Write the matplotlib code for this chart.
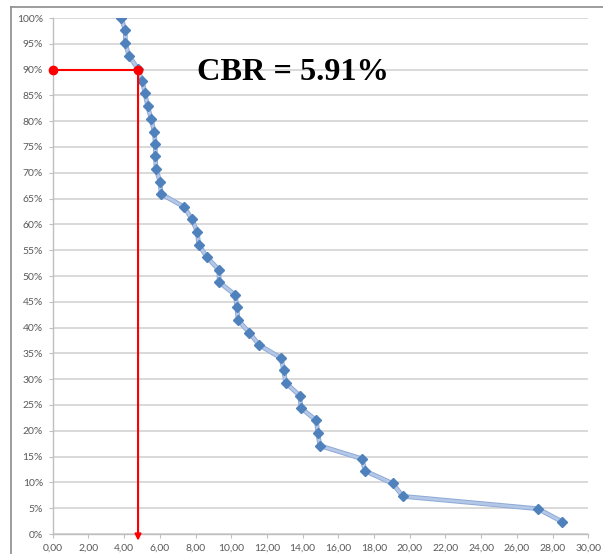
import matplotlib

matplotlib.use("Agg")
import matplotlib.pyplot as plt
import matplotlib.patheffects as pe
from matplotlib.lines import Line2D
from matplotlib.ticker import FuncFormatter, MultipleLocator

# CBR values (x) against cumulative percentage of samples (y)
cbr_values = [
    3.83, 4.07, 4.07, 4.27, 4.76, 5.02, 5.17, 5.32, 5.51, 5.68,
    5.75, 5.75, 5.79, 6.01, 6.07, 7.36, 7.80, 8.10, 8.18, 8.63,
    9.30, 9.33, 10.23, 10.32, 10.38, 11.01, 11.57, 12.79, 12.94, 13.05,
    13.84, 13.91, 14.77, 14.85, 14.97, 17.31, 17.51, 19.04, 19.61, 27.17,
    28.53,
]
percent_values = [
    100.0, 97.6, 95.1, 92.7, 90.2, 87.8, 85.4, 82.9, 80.5, 78.0,
    75.6, 73.2, 70.7, 68.3, 65.9, 63.4, 61.0, 58.5, 56.1, 53.7,
    51.2, 48.8, 46.3, 43.9, 41.5, 39.0, 36.6, 34.1, 31.7, 29.3,
    26.8, 24.4, 22.0, 19.5, 17.1, 14.6, 12.2, 9.8, 7.3, 4.9,
    2.4,
]
design_percent = 90.0
design_cbr = 4.78
title_text = "CBR = 5.91%"

fig = plt.figure(figsize=(6.03, 5.54), dpi=100)
ax = fig.add_axes([52.7 / 603, 20 / 554, 535.6 / 603, 516 / 554])

# blue curve: soft line with darker diamond markers on top
ax.plot(cbr_values, percent_values, color="#b4c7e7", lw=2,
        path_effects=[pe.Stroke(linewidth=3.4, foreground="#8eaad6"), pe.Normal()],
        zorder=4)
ax.plot(cbr_values, percent_values, linestyle="none", marker="D", markersize=4.6,
        markerfacecolor="#4f81bd", markeredgecolor="#4f81bd", zorder=5)

# red guide lines for the 90% percentile
ax.plot([0, design_cbr], [design_percent, design_percent], color="#ff0000", lw=1.5,
        marker="o", markersize=6, clip_on=False, zorder=6)
ax.annotate("", xy=(design_cbr, -1.3), xytext=(design_cbr, design_percent),
            arrowprops=dict(arrowstyle="-|>", color="#ff0000", lw=1.5, mutation_scale=9,
                            shrinkA=0, shrinkB=0),
            annotation_clip=False, zorder=6)

ax.text(8.08, 88.0, title_text, fontsize=23.3, fontweight="bold", family="Liberation Serif",
        va="baseline", ha="left", color="black")

ax.set_xlim(0, 30)
ax.set_ylim(0, 100)
ax.xaxis.set_major_locator(MultipleLocator(2))
ax.yaxis.set_major_locator(MultipleLocator(5))
ax.xaxis.set_major_formatter(FuncFormatter(lambda v, _: f"{v:.2f}".replace(".", ",")))
ax.yaxis.set_major_formatter(FuncFormatter(lambda v, _: f"{v:.0f}%"))

ax.grid(axis="y", color="#d9d9d9", lw=1.4)
ax.set_axisbelow(True)
for side in ("top", "right"):
    ax.spines[side].set_visible(False)
for side in ("left", "bottom"):
    ax.spines[side].set_color("#bfbfbf")
    ax.spines[side].set_linewidth(1.0)

ax.tick_params(axis="both", direction="out", length=3, width=0.8, color="#bfbfbf",
               labelcolor="#595959", labelsize=7.5)
ax.tick_params(axis="y", pad=4)
ax.tick_params(axis="x", pad=4)
for label in ax.get_xticklabels() + ax.get_yticklabels():
    label.set_family("Lato")

# outer chart frame (only top and left edges visible)
fig.add_artist(Line2D([11 / 603, 11 / 603], [0, 1 - 7 / 554], color="#8c8c8c", lw=1.2))
fig.add_artist(Line2D([11 / 603, 1], [1 - 7 / 554, 1 - 7 / 554], color="#8c8c8c", lw=1.2))

fig.savefig("out.png", dpi=100)
